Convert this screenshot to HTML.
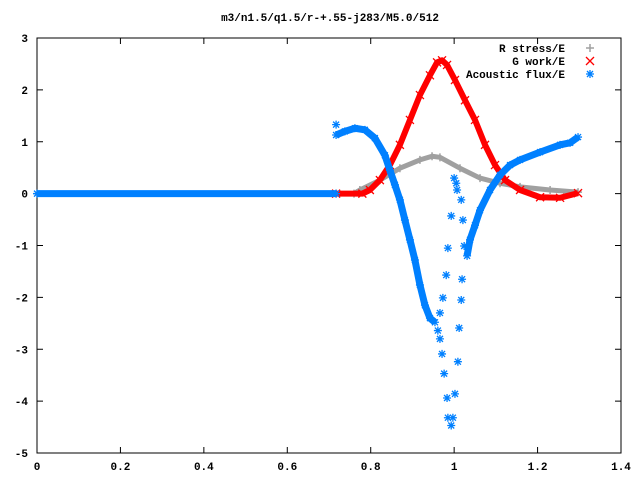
<!DOCTYPE html>
<html><head><meta charset="utf-8"><style>
body{margin:0;background:#fff}
svg text{font-family:"Liberation Mono",monospace;font-size:11px;font-weight:bold;fill:#000}
</style></head><body>
<svg id="chart" width="640" height="480" xmlns="http://www.w3.org/2000/svg">
<rect width="640" height="480" fill="#fff"/>
<text x="330" y="21" text-anchor="middle">m3/n1.5/q1.5/r-+.55-j283/M5.0/512</text>
<rect x="37" y="38" width="584" height="415" fill="none" stroke="#000" stroke-width="1"/>
<g id="axes"></g>
<g id="series"></g>
<g id="legend"></g>
</svg>
<script>
const xTicks=[0,0.2,0.4,0.6,0.8,1,1.2,1.4];
const xTickLabels=["0","0.2","0.4","0.6","0.8","1","1.2","1.4"];
const yTicks=[-5,-4,-3,-2,-1,0,1,2,3];
const yTickLabels=["-5","-4","-3","-2","-1","0","1","2","3"];
const seriesNames=["R stress/E","G work/E","Acoustic flux/E"];
const stressX=[0,0.717,0.76,0.774,0.822,0.870,0.918,0.947,0.966,1.014,1.062,1.110,1.158,1.23,1.297];
const stressY=[0,0,0,0.07,0.26,0.49,0.65,0.72,0.70,0.49,0.30,0.20,0.13,0.07,0.03];
const workX=[0.717,0.78,0.798,0.822,0.846,0.870,0.894,0.918,0.942,0.959,0.971,0.983,1.002,1.026,1.050,1.074,1.098,1.122,1.158,1.206,1.254,1.297];
const workY=[0,0,0.07,0.26,0.55,0.94,1.42,1.90,2.28,2.53,2.57,2.48,2.19,1.80,1.42,0.94,0.55,0.26,0.07,-0.07,-0.08,0.01];
const fluxFlatX=[0,0.717];
const fluxFlatY=[0,0];
const fluxX=[0.717,0.738,0.762,0.786,0.810,0.834,0.846,0.858,0.870,0.882,0.894,0.906,0.918,0.930,0.942,0.954];
const fluxY=[1.13,1.2,1.26,1.23,1.07,0.74,0.45,0.17,-0.12,-0.51,-0.89,-1.28,-1.76,-2.15,-2.4,-2.48];
const fluxRX=[1.031,1.038,1.050,1.062,1.086,1.110,1.134,1.158,1.206,1.254,1.278,1.297];
const fluxRY=[-1.2,-0.89,-0.61,-0.32,0.07,0.36,0.55,0.65,0.80,0.94,0.98,1.09];
const fluxScatX=[0.717,0.966,0.961,0.966,0.971,0.976,0.983,0.985,0.993,0.997,1.002,1.009,1.012,1.017,1.019,1.024,1.021,1.017,1.007,1.005,1.0,0.993,0.985,0.981,0.973];
const fluxScatY=[1.33,-2.30,-2.64,-2.8,-3.09,-3.47,-3.94,-4.32,-4.47,-4.32,-3.86,-3.24,-2.59,-2.05,-1.65,-1.01,-0.51,-0.12,0.07,0.2,0.3,-0.43,-1.05,-1.57,-2.01];
const NS="http://www.w3.org/2000/svg";
const X=v=>37+v*584/1.4, Y=v=>453-(v+5)*415/8;
const ax=document.getElementById('axes'),sg=document.getElementById('series'),lg=document.getElementById('legend');
function mk(t,a,p){const e=document.createElementNS(NS,t);for(const k in a)e.setAttribute(k,a[k]);p.appendChild(e);return e;}
xTicks.forEach((t,i)=>{const x=X(t);
mk('line',{x1:x,y1:453,x2:x,y2:447,stroke:'#000'},ax);mk('line',{x1:x,y1:38,x2:x,y2:44,stroke:'#000'},ax);
const tx=mk('text',{x:x,y:470,'text-anchor':'middle'},ax);tx.textContent=xTickLabels[i];

});
yTicks.forEach((t,i)=>{const y=Y(t);
mk('line',{x1:37,y1:y,x2:43,y2:y,stroke:'#000'},ax);mk('line',{x1:621,y1:y,x2:615,y2:y,stroke:'#000'},ax);
const tx=mk('text',{x:28,y:y+4,'text-anchor':'end'},ax);tx.textContent=yTickLabels[i];

});
function marker(type,x,y,c,p){
 if(type==0){mk('path',{d:`M${x-4} ${y}H${x+4}M${x} ${y-4}V${y+4}`,stroke:c,'stroke-width':1.5},p);}
 else if(type==1){mk('path',{d:`M${x-4} ${y-4}L${x+4} ${y+4}M${x-4} ${y+4}L${x+4} ${y-4}`,stroke:c,'stroke-width':1.3},p);}
 else{mk('path',{d:`M${x-4} ${y}H${x+4}M${x} ${y-4}V${y+4}M${x-3} ${y-3}L${x+3} ${y+3}M${x-3} ${y+3}L${x+3} ${y-3}`,stroke:c,'stroke-width':1.3},p);}
}
function series(xs,ys,c,w,type,name,line){
 const g=mk('g',{},sg);
 
 
 if(line){mk('polyline',{points:xs.map((x,i)=>X(x)+','+Y(ys[i])).join(' '),fill:'none',stroke:c,'stroke-width':w,'stroke-linejoin':'round'},g);}
 xs.forEach((x,i)=>marker(type,X(x),Y(ys[i]),c,g));
}
series(stressX,stressY,'#a0a0a0',5,0,'r-stress-series',true);
series(workX,workY,'#ff0000',6,1,'g-work-series',true);
series(fluxFlatX,fluxFlatY,'#0080ff',7,2,'acoustic-flux-flat',true);
series(fluxX,fluxY,'#0080ff',7,2,'acoustic-flux-left-branch',true);
series(fluxRX,fluxRY,'#0080ff',7,2,'acoustic-flux-right-branch',true);
series(fluxScatX,fluxScatY,'#0080ff',0,2,'acoustic-flux-scatter',false);
const cols=['#a0a0a0','#ff0000','#0080ff'];
seriesNames.forEach((n,i)=>{const y=48+i*13;
 const t=mk('text',{x:565,y:y+4,'text-anchor':'end'},lg);t.textContent=n;
 
 
 marker(i,590,y,cols[i],lg);});
</script>
</body></html>
